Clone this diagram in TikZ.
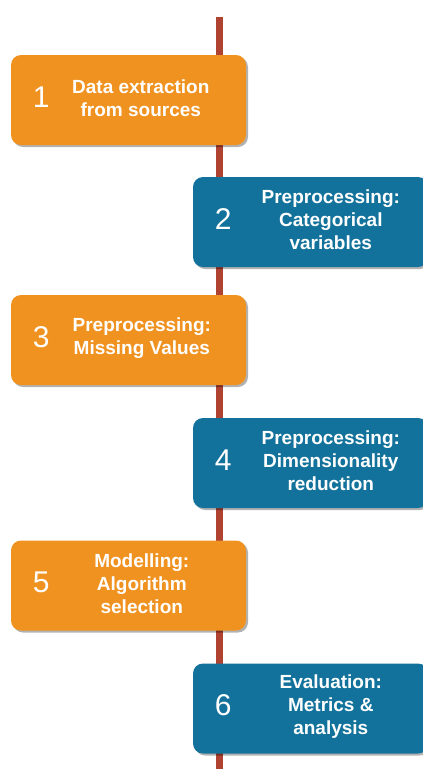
\documentclass[tikz,border=0pt]{standalone}
\usepackage{fontspec}
\setmainfont{Liberation Sans}
\usetikzlibrary{shadows,calc}

\definecolor{steporange}{HTML}{F09220}
\definecolor{stepblue}{HTML}{13729B}
\definecolor{spine}{HTML}{B04232}

\tikzset{
  stepbox/.style={rounded corners=10pt, minimum width=235pt, minimum height=90pt,
    draw=none, inner sep=0pt,
    drop shadow={shadow xshift=2pt, shadow yshift=-2pt, opacity=0.3, fill=black}},
  stepnum/.style={text=white, font=\fontsize{30}{30}\selectfont, inner sep=0pt},
  steptext/.style={text=white, align=center, inner sep=0pt,
    font=\bfseries\fontsize{19}{23}\selectfont}
}

\begin{document}
\begin{tikzpicture}[x=1pt,y=-1pt]
\useasboundingbox (0,0) rectangle (423,769);
% spine
\coordinate (top) at (219,17);
\coordinate (bottom) at (219,769);
\draw[spine, line width=7pt] (top) -- (bottom);
% steps
\foreach \i/\bx/\by/\col/\off/\txt in {
  1/128.5/100/steporange/130/{Data extraction\\from sources},
  2/310.5/222/stepblue/138/{Preprocessing:\\Categorical\\variables},
  3/128.5/340/steporange/131/{Preprocessing:\\Missing Values},
  4/310.5/463/stepblue/138/{Preprocessing:\\Dimensionality\\reduction},
  5/128.5/585.5/steporange/131/{Modelling:\\Algorithm\\selection},
  6/310.5/708.5/stepblue/138/{Evaluation:\\Metrics \&\\analysis}}{
  \node[stepbox, fill=\col] (s\i) at (\bx,\by) {};
  \node[stepnum] (n\i) at ([xshift=30.5pt, yshift=3pt]s\i.west) {\i};
  \node[steptext] (t\i) at ([xshift=\off pt, yshift=2pt]s\i.west) {\txt};
}
\end{tikzpicture}
\end{document}
